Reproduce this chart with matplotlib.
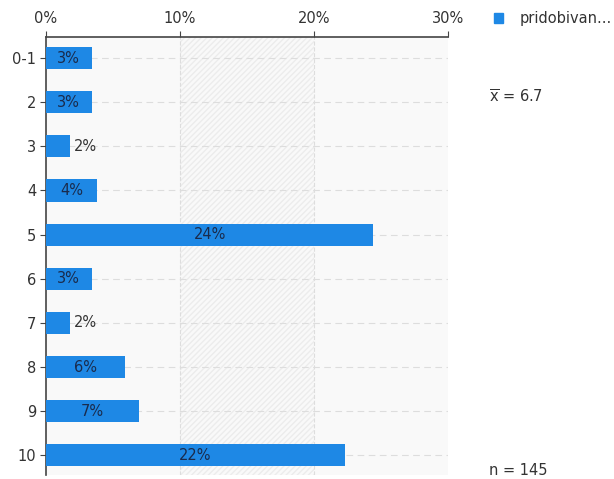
import matplotlib.pyplot as plt
import matplotlib.patches as mpatches

categories = ['0-1', '2', '3', '4', '5', '6', '7', '8', '9', '10']
values = [3.4, 3.4, 1.8, 3.8, 24.4, 3.4, 1.8, 5.9, 6.9, 22.3]
labels = ['3%', '3%', '2%', '4%', '24%', '3%', '2%', '6%', '7%', '22%']
xticks = [0, 10, 20, 30]
legend_label = 'pridobivan...'
mean_text = r'$\overline{\mathrm{x}}$ = 6.7'
n_text = 'n = 145'

fig = plt.figure(figsize=(6.14, 4.79), dpi=100)
ax = fig.add_axes([0.075, 0.008, 0.655, 0.915])

bar_color = '#1e88e5'
ypos = list(range(len(categories)))

# background zones
ax.axvspan(0, 30, color='#f9f9f9', zorder=0)
ax.add_patch(mpatches.Rectangle((10, -0.5), 10, 10.5, facecolor='none',
                                edgecolor='#ececec', hatch='//////', lw=0, zorder=0.5))

ax.barh(ypos, values, height=0.5, color=bar_color, zorder=3)

for y, v, lab in zip(ypos, values, labels):
    if v < 3:
        ax.text(v + 0.3, y, lab, va='center', ha='left', fontsize=10.5, color='#333333', zorder=4)
    else:
        ax.text(v / 2, y, lab, va='center', ha='center', fontsize=10.5, color='#1a2b4c', zorder=4)

ax.set_xlim(0, 30)
ax.set_ylim(9.45, -0.48)
ax.set_yticks(ypos)
ax.set_yticklabels(categories, fontsize=10.5, color='#333333')
ax.xaxis.tick_top()
ax.set_xticks(xticks)
ax.set_xticklabels([f'{t}%' for t in xticks], fontsize=10.5, color='#333333')
ax.tick_params(axis='x', length=4, color='#444444', pad=4)
ax.tick_params(axis='y', length=4, color='#444444', pad=3)

for x in [10, 20]:
    ax.axvline(x, color='#dddddd', ls='--', lw=0.8, zorder=1)
for y in ypos:
    ax.axhline(y, color='#dddddd', ls='--', lw=0.8, dashes=(6, 4), zorder=1)

ax.spines['right'].set_visible(False)
ax.spines['bottom'].set_visible(False)
ax.spines['top'].set_color('#444444')
ax.spines['left'].set_color('#444444')
ax.spines['top'].set_linewidth(1.2)
ax.spines['left'].set_linewidth(1.2)

# legend marker and side texts
fig.patches.append(mpatches.Rectangle((0.804, 0.951), 0.016, 0.021, color=bar_color,
                                      transform=fig.transFigure, figure=fig))
fig.text(0.847, 0.962, legend_label, fontsize=10.5, color='#333333', va='center')
fig.text(0.797, 0.797, mean_text, fontsize=10.5, color='#333333', va='center')
fig.text(0.797, 0.017, n_text, fontsize=10.5, color='#333333', va='center')

fig.savefig('out.png', dpi=100)
